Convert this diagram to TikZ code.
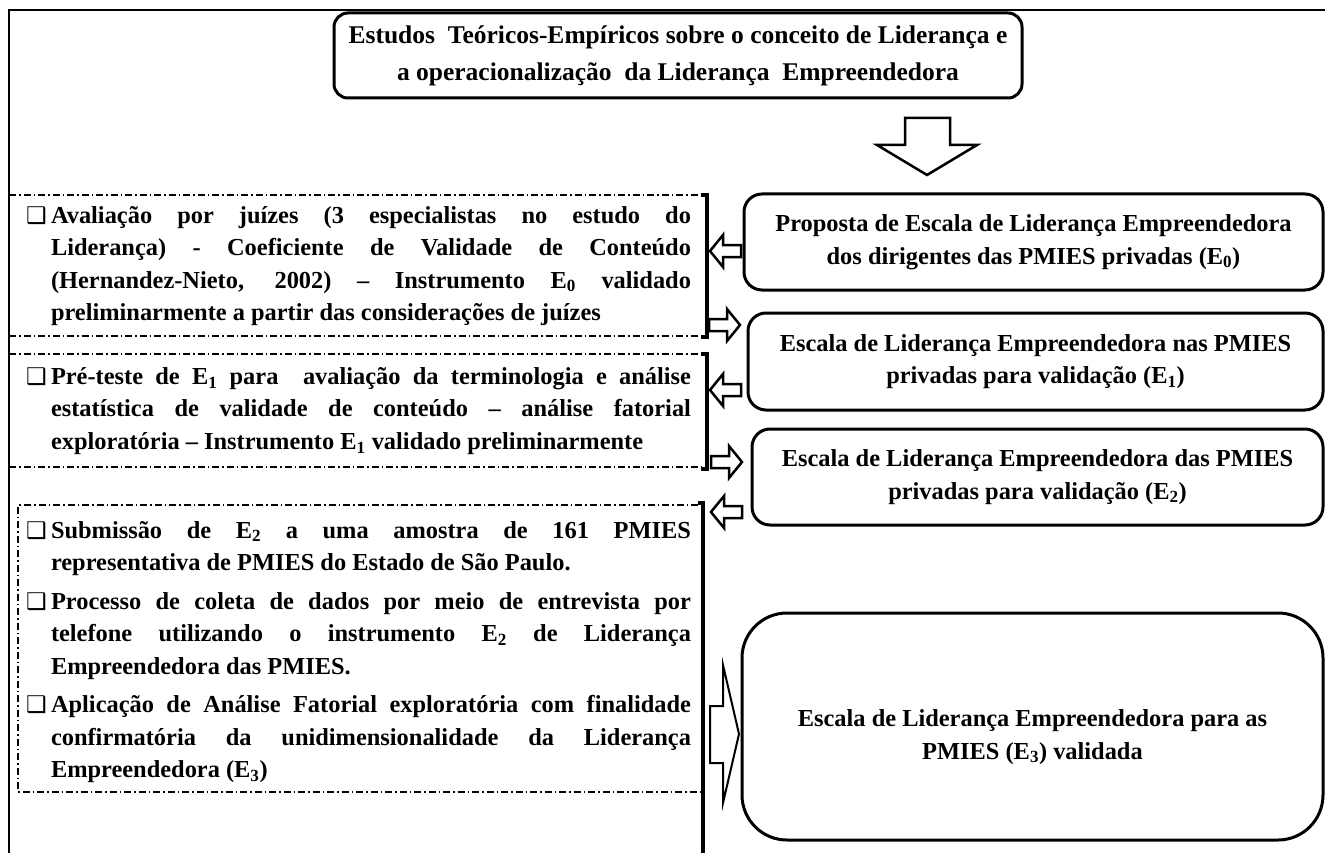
\documentclass[tikz,border=0pt]{standalone}
\usepackage{fontspec}
\setmainfont{Liberation Serif}
\newfontfamily\symfont{DejaVu Sans}
\newcommand{\chk}{\makebox[23pt][l]{\hspace{-2pt}\symfont\fontsize{23}{23}\selectfont ❑}}
\begin{document}
\begin{tikzpicture}[x=1pt,y=-1pt,
  every node/.style={inner sep=0pt, font=\bfseries\fontsize{24.4}{32.5}\selectfont},
  rbox/.style={draw, line width=3pt, rounded corners=18pt, align=center},
  ltext/.style={text width=663pt, align=justify},
  dashbox/.style={line width=1.4pt, dash pattern=on 7pt off 3pt on 1.5pt off 3pt},
  bracket/.style={line width=3.5pt},
  blk/.style={draw, line width=2.5pt, fill=white, line join=miter},
  larrow/.pic={\draw[blk] (0,0) -- (13,-16) -- (13,-6) -- (31,-6) -- (31,6) -- (13,6) -- (13,16) -- cycle;}
]
\useasboundingbox (0,0) rectangle (1325,853);
% frame
\draw[line width=2.8pt] (9,853) -- (9,10) -- (1325,10);

% top box
\node[rbox, rounded corners=14pt, minimum width=688pt, minimum height=85pt,
      font=\bfseries\fontsize{25.5}{37}\selectfont] (top) at (678,55.5)
  {Estudos\ \ Teóricos-Empíricos sobre o conceito de Liderança e\\a operacionalização\ \ da Liderança\ \ Empreendedora};

% big down arrow
\draw[blk] (905,118) -- (950,118) -- (950,145) -- (977,145) -- (927,175) -- (877,145) -- (905,145) -- cycle;

% right boxes
\node[rbox, minimum width=579pt, minimum height=96pt] (bA) at (1033.5,242)
  {Proposta de Escala de Liderança Empreendedora\\dos dirigentes das PMIES privadas (E\textsubscript{0})};
\node[rbox, minimum width=575pt, minimum height=97pt] (bB) at (1035.5,361.5)
  {Escala de Liderança Empreendedora nas PMIES\\privadas para validação (E\textsubscript{1})};
\node[rbox, minimum width=571pt, minimum height=96pt] (bC) at (1037.5,477)
  {Escala de Liderança Empreendedora das PMIES\\privadas para validação (E\textsubscript{2})};
\node[rbox, rounded corners=45pt, minimum width=581pt, minimum height=227pt] (bD) at (1032.5,726.5) {};
\node[align=center] (bDt) at (1032.5,737)
  {Escala de Liderança Empreendedora para as\\PMIES (E\textsubscript{3}) validada};

% dashed boxes
\draw[dashbox] (9,195) -- (701,195);
\draw[dashbox] (9,336) -- (701,336);
\draw[dashbox] (9,354) -- (701,354);
\draw[dashbox] (9,467) -- (701,467);
\draw[dashbox] (698,505) -- (18,505) -- (18,792) -- (703,792);

% brackets
\draw[bracket] (701,195) -- (707,195) -- (707,337) -- (701,337);
\draw[bracket] (701,354) -- (707,354) -- (707,469) -- (701,469);
\draw[bracket] (698,503) -- (703,503) -- (703,853);

% small block arrows
\pic at (710,251) {larrow};
\pic[xscale=-1] at (740,325) {larrow};
\pic at (710,390) {larrow};
\pic[xscale=-1] at (742,462) {larrow};
\pic at (711,512) {larrow};

% big right arrow
\draw[blk, line width=2pt] (710,706) -- (723,706) -- (723,665) -- (739,734) -- (723,803) -- (723,763) -- (710,763) -- cycle;

% left texts
\node[ltext] (t1) at (359.5,266)
  {\hangindent=23pt\hangafter=1\noindent\chk Avaliação por juízes (3 especialistas no estudo do\linebreak
   Liderança) - Coeficiente de Validade de Conteúdo\linebreak
   (Hernandez-Nieto, 2002) – Instrumento E\textsubscript{0} validado\linebreak
   preliminarmente a partir das considerações de juízes\par};
\node[ltext] (t2) at (359.5,411)
  {\hangindent=23pt\hangafter=1\noindent\chk Pré-teste de E\textsubscript{1} para\ \ avaliação da terminologia e análise\linebreak
   estatística de validade de conteúdo – análise fatorial\linebreak
   exploratória – Instrumento E\textsubscript{1} validado preliminarmente\par};
\node[ltext] (t3) at (359.5,652)
  {\parskip=6pt
   \hangindent=23pt\hangafter=1\noindent\chk Submissão de E\textsubscript{2} a uma amostra de 161 PMIES\linebreak
   representativa de PMIES do Estado de São Paulo.\par
   \hangindent=23pt\hangafter=1\noindent\chk Processo de coleta de dados por meio de entrevista por\linebreak
   telefone utilizando o instrumento E\textsubscript{2} de Liderança\linebreak
   Empreendedora das PMIES.\par
   \hangindent=23pt\hangafter=1\noindent\chk Aplicação de Análise Fatorial exploratória com finalidade\linebreak
   confirmatória da unidimensionalidade da Liderança\linebreak
   Empreendedora (E\textsubscript{3})\par};
\end{tikzpicture}
\end{document}
